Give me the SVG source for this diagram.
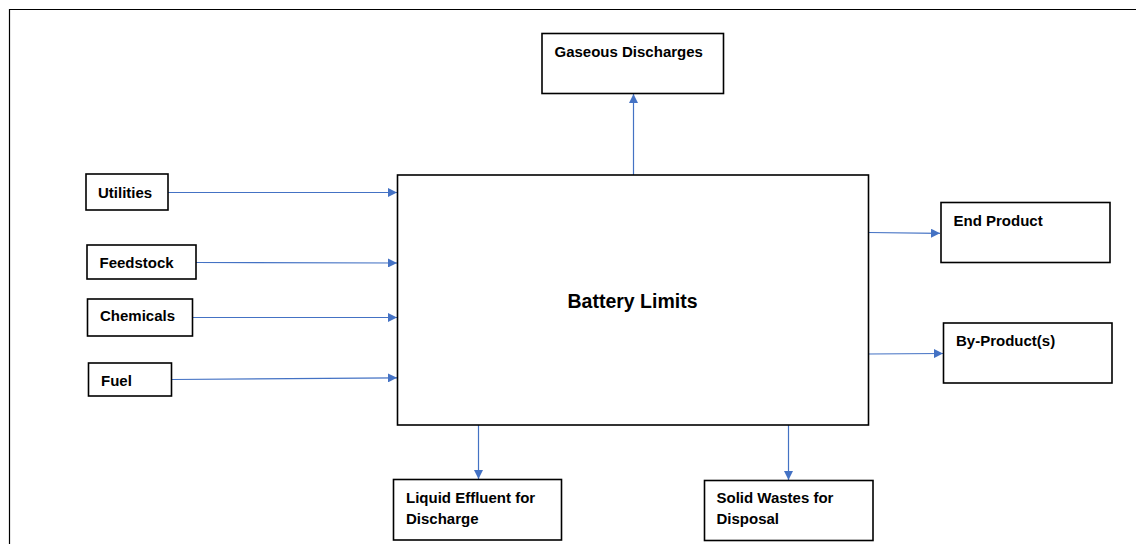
<svg xmlns="http://www.w3.org/2000/svg" width="1136" height="544" viewBox="0 0 1136 544">
<style>
.box{fill:#fff;stroke:#000;stroke-width:1.6}
.lbl{font-family:"Liberation Sans",Arial,sans-serif;font-weight:bold;font-size:15px;fill:#000}
.big{font-size:19.5px}
.con{stroke:#4472C4;stroke-width:1.2;fill:none;marker-end:url(#ah)}
</style>
<defs>
<marker id="ah" viewBox="0 0 10 10" refX="10" refY="5" markerWidth="9.5" markerHeight="9" markerUnits="userSpaceOnUse" orient="auto">
<path d="M0,0 L10,5 L0,10 Z" fill="#4472C4"/>
</marker>
</defs>
<rect width="1136" height="544" fill="#fff"/>
<path d="M9.5,544 V9.5 H1136" fill="none" stroke="#000" stroke-width="1.2"/>
<g id="connectors">
<line class="con" x1="168" y1="192.5" x2="397" y2="192.5"/>
<line class="con" x1="196" y1="262.5" x2="397" y2="263"/>
<line class="con" x1="193" y1="317.5" x2="397" y2="317.5"/>
<line class="con" x1="172" y1="379.5" x2="397" y2="377.8"/>
<line class="con" x1="633.5" y1="175" x2="633.5" y2="94"/>
<line class="con" x1="868" y1="232.5" x2="940" y2="233.3"/>
<line class="con" x1="868" y1="354" x2="943" y2="353.5"/>
<line class="con" x1="478.5" y1="425" x2="478.5" y2="479"/>
<line class="con" x1="788.5" y1="425" x2="788.5" y2="480"/>
</g>
<g id="battery">
<rect class="box" x="397.5" y="175" width="471" height="250"/>
<text class="lbl big" x="632.5" y="307.5" text-anchor="middle">Battery Limits</text>
</g>
<g id="utilities">
<rect class="box" x="86" y="174" width="82" height="36"/>
<text class="lbl" x="98" y="198">Utilities</text>
</g>
<g id="feedstock">
<rect class="box" x="87" y="245" width="109" height="34"/>
<text class="lbl" x="99.5" y="268">Feedstock</text>
</g>
<g id="chemicals">
<rect class="box" x="87.5" y="299" width="105" height="37"/>
<text class="lbl" x="100" y="321">Chemicals</text>
</g>
<g id="fuel">
<rect class="box" x="88.5" y="363" width="83" height="33"/>
<text class="lbl" x="101" y="386">Fuel</text>
</g>
<g id="gaseous">
<rect class="box" x="542" y="33.5" width="181.5" height="60"/>
<text class="lbl" x="554.5" y="56.5">Gaseous Discharges</text>
</g>
<g id="endproduct">
<rect class="box" x="941" y="202.5" width="169" height="60"/>
<text class="lbl" x="953.5" y="225.5">End Product</text>
</g>
<g id="byproduct">
<rect class="box" x="943.5" y="323" width="168.5" height="60"/>
<text class="lbl" x="956" y="345.5">By-Product(s)</text>
</g>
<g id="liquid">
<rect class="box" x="393.5" y="479.5" width="168" height="60.5"/>
<text class="lbl" x="406" y="502.5">Liquid Effluent for</text>
<text class="lbl" x="406" y="523.5">Discharge</text>
</g>
<g id="solid">
<rect class="box" x="704.5" y="480.5" width="168.5" height="60"/>
<text class="lbl" x="716.5" y="502.5">Solid Wastes for</text>
<text class="lbl" x="716.5" y="523.5">Disposal</text>
</g>
</svg>
